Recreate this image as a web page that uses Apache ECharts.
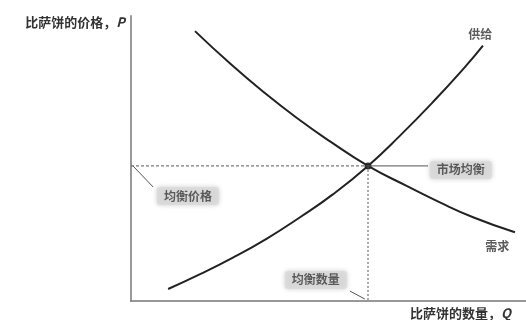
<!DOCTYPE html>
<html>
<head>
<meta charset="utf-8">
<script src="https://cdn.jsdelivr.net/npm/echarts@6/dist/echarts.min.js"></script>
<style>
html,body{margin:0;padding:0;background:#fff;}
#main{width:526px;height:320px;}
</style>
</head>
<body>
<div id="main"></div>
<script>
// 供给曲线 (数量 Q, 价格 P)
var supplyQ = [0.94, 1.75, 2.58, 3.44, 4.28, 5.11, 6.00, 6.78, 7.65, 8.48, 8.91];
var supplyP = [0.42, 0.94, 1.52, 2.19, 2.94, 3.74, 4.74, 5.76, 6.99, 8.25, 8.96];
// 需求曲线
var demandQ = [1.62, 2.51, 3.34, 4.20, 5.04, 6.00, 6.99, 7.82, 8.66, 9.72];
var demandP = [9.47, 8.33, 7.35, 6.42, 5.60, 4.74, 4.03, 3.46, 2.94, 2.41];
// 均衡点
var eqQ = 6.00, eqP = 4.74;
var curveNames = ['供给', '需求'];
var noteNames = ['市场均衡', '均衡价格', '均衡数量'];
var axisNames = ['比萨饼的数量，{i|Q}', '比萨饼的价格，{i|P}'];

function pairs(xs, ys){
  var out = [];
  for (var i = 0; i < xs.length; i++) out.push([xs[i], ys[i]]);
  return out;
}

var chartDom = document.getElementById('main');
var myChart = echarts.init(chartDom);
var font = '"Noto Sans CJK SC", sans-serif';

var noteLabel = {
  show: true, position: 'inside', formatter: '{b}',
  color: '#3a3a3a', fontSize: 12, fontWeight: 'bold', fontFamily: font,
  backgroundColor: '#dadada', padding: [3, 7], borderRadius: 3,
  shadowColor: 'rgba(0,0,0,0.25)', shadowBlur: 5
};
var plainLabel = {
  show: true, position: 'inside', formatter: '{b}',
  color: '#333', fontSize: 12, fontWeight: 'bold', fontFamily: font
};
var nameRich = { i: { fontStyle: 'italic', fontWeight: 'bold', fontSize: 13, color: '#333', fontFamily: font } };
var leader = { color: '#555', width: 1 };

var option = {
  animation: false,
  grid: { left: 131, right: 0, top: 16, bottom: 18, containLabel: false },
  xAxis: {
    type: 'value', min: 0, max: 10,
    name: axisNames[0], nameLocation: 'end', nameGap: -116,
    nameTextStyle: { align: 'left', verticalAlign: 'top', padding: [6, 0, 0, 0],
      color: '#333', fontSize: 13, fontWeight: 'bold', fontFamily: font, rich: nameRich },
    axisLine: { lineStyle: { color: '#777', width: 1.5 } },
    axisTick: { show: false }, axisLabel: { show: false }, splitLine: { show: false }
  },
  yAxis: {
    type: 'value', min: 0, max: 10,
    name: axisNames[1], nameLocation: 'end', nameGap: -6,
    nameTextStyle: { align: 'right', verticalAlign: 'middle', padding: [0, 6, 0, 0],
      color: '#333', fontSize: 13, fontWeight: 'bold', fontFamily: font, rich: nameRich },
    axisLine: { lineStyle: { color: '#999', width: 2 } },
    axisTick: { show: false }, axisLabel: { show: false }, splitLine: { show: false }
  },
  series: [
    {
      name: curveNames[0], type: 'line', smooth: 0.5, symbol: 'none', silent: true,
      lineStyle: { color: '#222', width: 2 },
      data: pairs(supplyQ, supplyP)
    },
    {
      name: curveNames[1], type: 'line', smooth: 0.5, symbol: 'none', silent: true,
      lineStyle: { color: '#222', width: 2 },
      data: pairs(demandQ, demandP)
    },
    {
      type: 'line', symbol: 'none', silent: true,
      lineStyle: { color: '#555', width: 1, type: [3, 2] },
      data: [[0, eqP], [eqQ, eqP]]
    },
    {
      type: 'line', symbol: 'none', silent: true,
      lineStyle: { color: '#555', width: 1, type: [2, 2] },
      data: [[eqQ, eqP], [eqQ, 0]]
    },
    { type: 'line', symbol: 'none', silent: true, lineStyle: leader, data: [[eqQ, eqP], [7.52, eqP]] },
    { type: 'line', symbol: 'none', silent: true, lineStyle: leader, data: [[0.05, eqP], [0.56, 4.0]] },
    { type: 'line', symbol: 'none', silent: true, lineStyle: leader, data: [[5.54, 0.35], [5.92, 0.07]] },
    {
      type: 'scatter', symbolSize: 7, silent: true,
      itemStyle: { color: '#000' },
      data: [[eqQ, eqP]]
    },
    {
      type: 'scatter', symbolSize: 0, silent: true, label: noteLabel,
      data: [
        { name: noteNames[0], value: [8.35, 4.6] },
        { name: noteNames[1], value: [1.44, 3.68] },
        { name: noteNames[2], value: [4.68, 0.74] }
      ]
    },
    {
      type: 'scatter', symbolSize: 0, silent: true, label: plainLabel,
      data: [
        { name: curveNames[0], value: [8.84, 9.37] },
        { name: curveNames[1], value: [9.27, 1.93] }
      ]
    }
  ]
};

option && myChart.setOption(option);
</script>
</body>
</html>
